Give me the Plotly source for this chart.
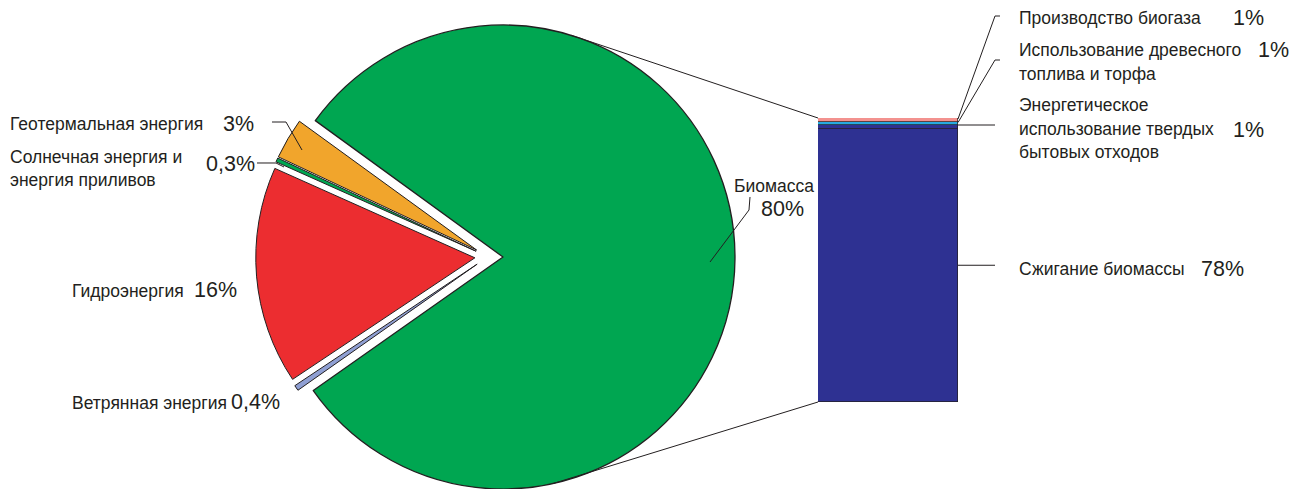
import math
import plotly.graph_objects as go

# ---------------- data ----------------
pie_labels = ["Биомасса", "Ветрянная энергия", "Гидроэнергия",
              "Солнечная энергия и энергия приливов", "Геотермальная энергия"]
pie_values = [80, 0.4, 16, 0.3, 3]
pie_pct_text = ["80%", "0,4%", "16%", "0,3%", "3%"]
pie_label_lines = [["Биомасса"], ["Ветрянная энергия"], ["Гидроэнергия"],
                   ["Солнечная энергия и", "энергия приливов"], ["Геотермальная энергия"]]

bar_labels = ["Сжигание биомассы",
              "Энергетическое использование твердых бытовых отходов",
              "Использование древесного топлива и торфа",
              "Производство биогаза"]
bar_values = [78, 1, 1, 1]
bar_pct_text = ["78%", "1%", "1%", "1%"]
bar_label_lines = [["Сжигание биомассы"],
                   ["Энергетическое", "использование твердых", "бытовых отходов"],
                   ["Использование древесного", "топлива и торфа"],
                   ["Производство биогаза"]]

# ---------------- styles / layout ----------------
W, H = 1290, 489
TXT = "#231f20"
OUT = "#231f20"
FONT = "Liberation Sans, Arial, sans-serif"
pie_colors = ["#00a651", "#8f9fd3", "#ec2d30", "#00a651", "#f1a52c"]
bar_colors = ["#2e3192", "#2e3192", "#27aae1", "#f3928f"]

def px(x, y):
    return x / W, 1 - y / H

fig = go.Figure()

# big slice (biomass) - its own pie so it can have a slightly larger radius
A_cx, A_cy, A_r = 503, 257, 232
a_x0 = A_cx / W
fig.add_trace(go.Pie(
    labels=pie_labels, values=pie_values, sort=False, direction="clockwise",
    rotation=-54, textinfo="none", hoverinfo="skip", showlegend=False,
    marker=dict(colors=[pie_colors[0]] + ["rgba(0,0,0,0)"] * 4,
                line=dict(color=OUT, width=[1.3, 0, 0, 0, 0])),
    domain=dict(x=[a_x0 - 0.2, a_x0 + 0.2], y=[1 - (A_cy + A_r) / H, 1 - (A_cy - A_r) / H]),
))

# small slices, exploded
B_cx = 488
pull_small = 0.06
fig.add_trace(go.Pie(
    labels=pie_labels, values=pie_values, sort=False, direction="clockwise",
    rotation=-54, textinfo="none", hoverinfo="skip", showlegend=False,
    pull=[0] + [pull_small] * 4,
    marker=dict(colors=["rgba(0,0,0,0)"] + pie_colors[1:],
                line=dict(color=OUT, width=[0, 1, 1, 1, 1])),
    domain=dict(x=[B_cx / W - 0.2, B_cx / W + 0.2], y=[0, 0.95]),
))

# stacked bar
bar_left, bar_right, bar_top, bar_bottom = 818, 958, 118, 402
total = sum(bar_values)
for lab, v, c in zip(bar_labels, bar_values, bar_colors):
    fig.add_trace(go.Bar(x=[0], y=[v], width=[1], name=lab, showlegend=False,
                         marker=dict(color=c, line=dict(color=OUT, width=0.7)),
                         hoverinfo="skip"))

def bar_y(v):
    return bar_bottom - v / total * (bar_bottom - bar_top)

shapes = []
def line(points, w=1):
    path = "M " + " L ".join(f"{x/W:.5f},{1-y/H:.5f}" for x, y in points)
    shapes.append(dict(type="path", path=path, xref="paper", yref="paper",
                       line=dict(color=TXT, width=w)))

# connectors between pie and bar
top_ang, bot_ang = math.radians(17), math.radians(167.5)
line([(A_cx + A_r * math.sin(top_ang), A_cy - A_r * math.cos(top_ang)), (bar_left, bar_y(total))])
line([(A_cx + A_r * math.sin(bot_ang), A_cy - A_r * math.cos(bot_ang)), (bar_left, bar_y(0))])

# bar leaders
cum = [sum(bar_values[:i + 1]) for i in range(len(bar_values))]
line([(bar_right, bar_y(cum[0] / 2)), (995, bar_y(cum[0] / 2))])
line([(bar_right, bar_y(cum[1])), (995, bar_y(cum[1]))])
line([(bar_right, bar_y(cum[2]) + 1), (995, 60), (1000, 60)])
line([(bar_right, bar_y(cum[3]) + 1), (995, 16), (1000, 16)])

# pie leaders
line([(710, 262), (749, 210), (750, 197)])
line([(272, 122), (286, 122), (302, 150)])
line([(257, 163), (276, 163), (284, 167)])

annotations = []
def text(x, y, s, size):
    xp, yp = px(x, y)
    annotations.append(dict(x=xp, y=yp, xref="paper", yref="paper", text=s,
                            showarrow=False, xanchor="left", yanchor="middle",
                            font=dict(family=FONT, size=size, color=TXT)))

LBL, PCT = 17.5, 21.5
# pie labels: (x, first line y, pct x, pct y)
pie_pos = [(732, 186, 759, 209), (70, 403, 229, 402), (70, 291, 192, 290),
           (8, 157, 204, 164), (8, 124, 221, 124)]
for lines_, pct, (x, y, xp_, yp_) in zip(pie_label_lines, pie_pct_text, pie_pos):
    for k, s in enumerate(lines_):
        text(x, y + 23 * k, s, LBL)
    text(xp_, yp_, pct, PCT)

bar_pos = [(1017, 269, 1199, 269), (1017, 105, 1231, 130), (1017, 50, 1256, 50),
           (1017, 18, 1231, 18)]
for lines_, pct, (x, y, xp_, yp_) in zip(bar_label_lines, bar_pct_text, bar_pos):
    for k, s in enumerate(lines_):
        text(x, y + 23.5 * k, s, LBL)
    text(xp_, yp_, pct, PCT)

fig.update_layout(
    width=W, height=H, margin=dict(l=0, r=0, t=0, b=0),
    paper_bgcolor="white", plot_bgcolor="rgba(0,0,0,0)",
    barmode="stack", bargap=0,
    xaxis=dict(domain=[bar_left / W, bar_right / W], range=[-0.5, 0.5],
               visible=False, fixedrange=True),
    yaxis=dict(domain=[1 - bar_bottom / H, 1 - bar_top / H], range=[0, total],
               visible=False, fixedrange=True),
    shapes=shapes, annotations=annotations,
    font=dict(family=FONT, color=TXT),
)

fig.write_html("out.html", config={"displayModeBar": False},
               post_script="document.body.style.margin='0';document.body.style.overflow='hidden';")
